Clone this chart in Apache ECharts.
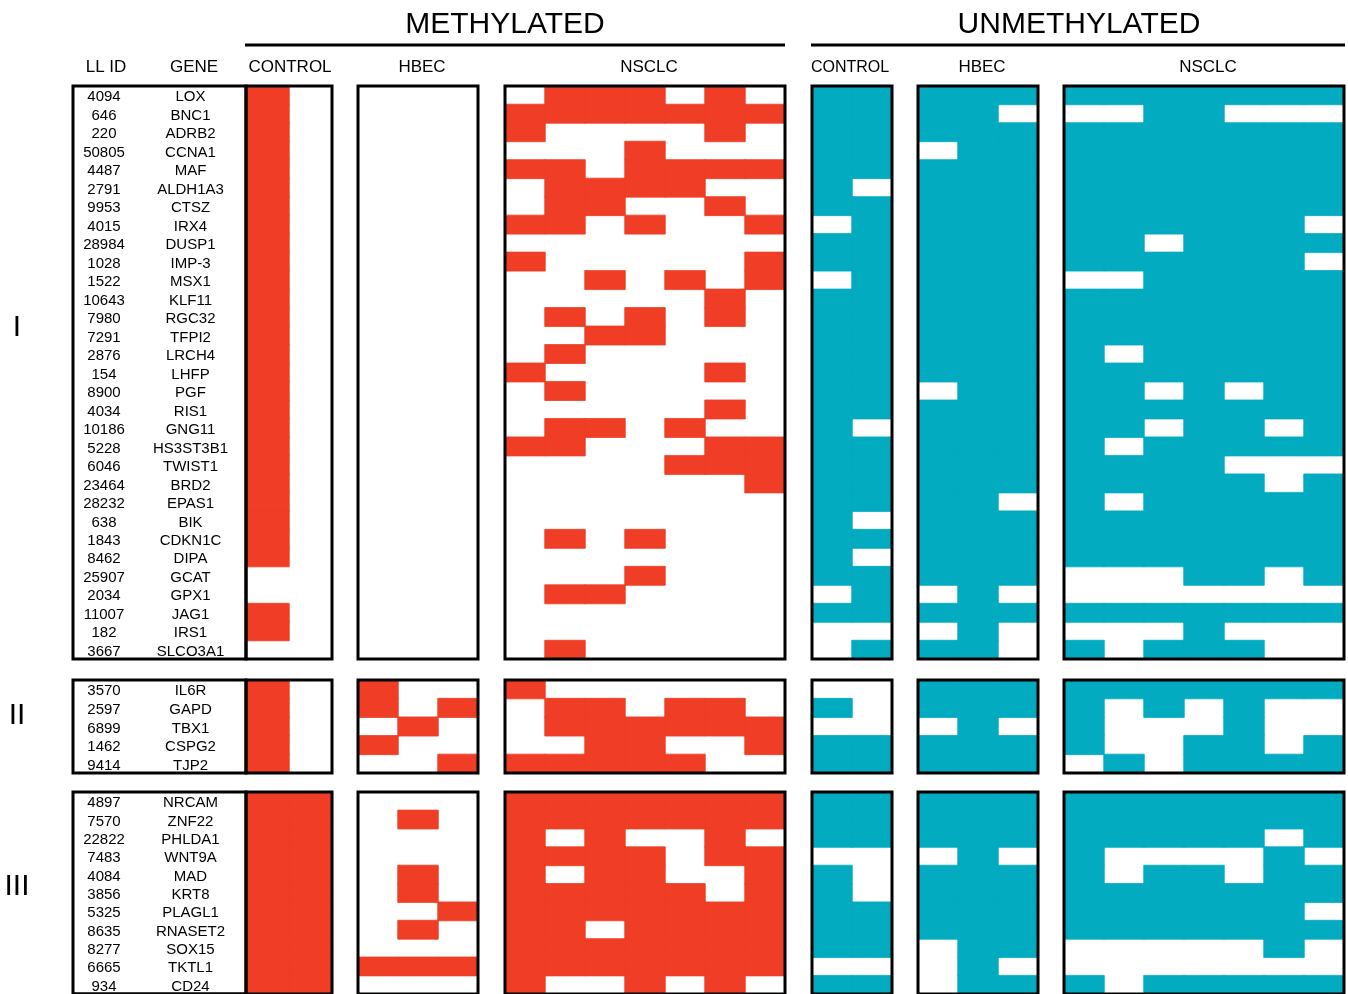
<!DOCTYPE html>
<html lang="en">
<head>
<meta charset="UTF-8">
<title>Methylation heatmap</title>
<style>
  html, body { margin: 0; padding: 0; background: #fff; }
  #main { width: 1348px; height: 994px; }
</style>
</head>
<body>
<div id="main"></div>
<script src="https://cdn.jsdelivr.net/npm/echarts@6/dist/echarts.min.js"></script>
<script>
var FONT = '"Liberation Sans", Arial, sans-serif'
var RED = '#EF3E25'
var TEAL = '#02ABBF'

// group I
var idsI = ['4094', '646', '220', '50805', '4487', '2791', '9953', '4015', '28984', '1028', '1522', '10643', '7980', '7291', '2876', '154',
  '8900', '4034', '10186', '5228', '6046', '23464', '28232', '638', '1843', '8462', '25907', '2034', '11007', '182', '3667']
var genesI = ['LOX', 'BNC1', 'ADRB2', 'CCNA1', 'MAF', 'ALDH1A3', 'CTSZ', 'IRX4', 'DUSP1', 'IMP-3', 'MSX1', 'KLF11', 'RGC32', 'TFPI2', 'LRCH4', 'LHFP',
  'PGF', 'RIS1', 'GNG11', 'HS3ST3B1', 'TWIST1', 'BRD2', 'EPAS1', 'BIK', 'CDKN1C', 'DIPA', 'GCAT', 'GPX1', 'JAG1', 'IRS1', 'SLCO3A1']
// 1 = methylated / unmethylated product present
var methCtrlI = ['10', '10', '10', '10', '10', '10', '10', '10', '10', '10', '10', '10', '10', '10', '10', '10',
  '10', '10', '10', '10', '10', '10', '10', '10', '10', '10', '00', '00', '10', '10', '00']
var methHbecI = ['000', '000', '000', '000', '000', '000', '000', '000', '000', '000', '000', '000', '000', '000', '000', '000',
  '000', '000', '000', '000', '000', '000', '000', '000', '000', '000', '000', '000', '000', '000', '000']
var methNsclcI = ['0111010', '1111111', '1000010', '0001000', '1101111', '0111100', '0110010', '1101001', '0000000', '1000001', '0010101',
  '0000010', '0101010', '0011000', '0100000', '1000010', '0100000', '0000010', '0110100', '1100011', '0000111', '0000001',
  '0000000', '0000000', '0101000', '0000000', '0001000', '0110000', '0000000', '0000000', '0100000']
var unCtrlI = ['11', '11', '11', '11', '11', '10', '11', '01', '11', '11', '01', '11', '11', '11', '11', '11',
  '11', '11', '10', '11', '11', '11', '11', '10', '11', '10', '11', '01', '11', '00', '01']
var unHbecI = ['111', '110', '111', '011', '111', '111', '111', '111', '111', '111', '111', '111', '111', '111', '111', '111',
  '011', '111', '111', '111', '111', '111', '110', '111', '111', '111', '111', '010', '111', '010', '110']
var unNsclcI = ['1111111', '0011000', '1111111', '1111111', '1111111', '1111111', '1111111', '1111110', '1101111', '1111110', '0011111',
  '1111111', '1111111', '1111111', '1011111', '1111111', '1101011', '1111111', '1101101', '1011111', '1111000', '1111101',
  '1011111', '1111111', '1111111', '1111111', '0001101', '0000000', '1111111', '0001000', '1011100']

// group II
var idsII = ['3570', '2597', '6899', '1462', '9414']
var genesII = ['IL6R', 'GAPD', 'TBX1', 'CSPG2', 'TJP2']
var methCtrlII = ['10', '10', '10', '10', '10']
var methHbecII = ['100', '101', '010', '100', '001']
var methNsclcII = ['1000000', '0110110', '0111111', '0011001', '1111100']
var unCtrlII = ['00', '10', '00', '11', '11']
var unHbecII = ['111', '111', '010', '111', '111']
var unNsclcII = ['1111111', '1010100', '1000100', '1001101', '0101111']

// group III
var idsIII = ['4897', '7570', '22822', '7483', '4084', '3856', '5325', '8635', '8277', '6665', '934']
var genesIII = ['NRCAM', 'ZNF22', 'PHLDA1', 'WNT9A', 'MAD', 'KRT8', 'PLAGL1', 'RNASET2', 'SOX15', 'TKTL1', 'CD24']
var methCtrlIII = ['11', '11', '11', '11', '11', '11', '11', '11', '11', '11', '11']
var methHbecIII = ['000', '010', '000', '000', '010', '010', '001', '010', '000', '111', '000']
var methNsclcIII = ['1111111', '1111111', '1010010', '1111011', '1011001', '1111101', '1111111', '1101111', '1111111', '1111111', '1001010']
var unCtrlIII = ['11', '11', '11', '00', '10', '10', '11', '11', '11', '00', '11']
var unHbecIII = ['111', '111', '111', '010', '111', '111', '111', '111', '011', '010', '011']
var unNsclcIII = ['1111111', '1111111', '1111101', '1000010', '1011011', '1111111', '1111110', '1111111', '0000010', '0000000', '1011111']

var groups = [
  { ids: idsI, genes: genesI, top: 86, height: 573, cells: [methCtrlI, methHbecI, methNsclcI, unCtrlI, unHbecI, unNsclcI] },
  { ids: idsII, genes: genesII, top: 680, height: 93, cells: [methCtrlII, methHbecII, methNsclcII, unCtrlII, unHbecII, unNsclcII] },
  { ids: idsIII, genes: genesIII, top: 792, height: 204, cells: [methCtrlIII, methHbecIII, methNsclcIII, unCtrlIII, unHbecIII, unNsclcIII] }
]

// kind 1 = methylated (red), 2 = unmethylated (teal); pad nudges the header text
var panels = [
  { left: 246, width: 86, name: 'CONTROL', kind: 1, size: 17, pad: [0, 0, 0, 2] },
  { left: 358, width: 120, name: 'HBEC', kind: 1, size: 17, pad: [0, 0, 0, 8] },
  { left: 505, width: 280, name: 'NSCLC', kind: 1, size: 17, pad: [0, 0, 0, 8] },
  { left: 812, width: 80, name: 'CONTROL', kind: 2, size: 16, pad: [0, 4, 0, 0] },
  { left: 918, width: 120, name: 'HBEC', kind: 2, size: 17, pad: [0, 0, 0, 8] },
  { left: 1064, width: 280, name: 'NSCLC', kind: 2, size: 17, pad: [0, 0, 0, 8] }
]

var grid = [], xAxis = [], yAxis = [], series = []

groups.forEach(function (g, gi) {
  // id / gene box
  var li = grid.length
  grid.push({ left: 73, top: g.top, width: 173, height: g.height, show: true, borderColor: '#000', borderWidth: 3, z: 10 })
  xAxis.push({ type: 'category', gridIndex: li, show: false, data: ['id', 'gene'] })
  yAxis.push({
    type: 'category', gridIndex: li, inverse: true, data: g.genes,
    axisLine: { show: false }, axisTick: { show: false }, splitLine: { show: false },
    axisLabel: {
      inside: true, margin: 0, interval: 0, color: '#000', fontSize: 15, fontFamily: FONT,
      padding: [4, 0, 0, 0],
      formatter: function (v, i) { return '{id|' + g.ids[i] + '}{g|' + v + '}' },
      rich: {
        id: { width: 62, align: 'center', fontSize: 15, fontFamily: FONT, color: '#000' },
        g: { width: 111, align: 'center', fontSize: 15, fontFamily: FONT, color: '#000' }
      }
    }
  })

  panels.forEach(function (p, pi) {
    var idx = grid.length
    var rows = g.cells[pi]
    var cols = []
    for (var c = 0; c < rows[0].length; c++) cols.push('c' + c)
    grid.push({ left: p.left, top: g.top, width: p.width, height: g.height, show: true, borderColor: '#000', borderWidth: 3, z: 10 })
    xAxis.push({
      type: 'category', gridIndex: idx, data: cols, position: 'top', show: gi === 0,
      axisLine: { show: false }, axisTick: { show: false }, axisLabel: { show: false }, splitLine: { show: false },
      name: p.name, nameLocation: 'middle', nameGap: 10,
      nameTextStyle: { color: '#000', fontSize: p.size, fontFamily: FONT, padding: p.pad }
    })
    yAxis.push({ type: 'category', gridIndex: idx, inverse: true, data: g.genes, show: false })
    var data = []
    rows.forEach(function (row, r) {
      for (var c = 0; c < row.length; c++) {
        if (row[c] === '1') data.push([c, r, p.kind])
      }
    })
    series.push({
      type: 'heatmap', xAxisIndex: idx, yAxisIndex: idx, data: data, z: 1,
      silent: true, emphasis: { disabled: true },
      // thin same-colour border hides anti-aliasing seams between rows
      itemStyle: { borderWidth: 0.8, borderColor: p.kind === 1 ? RED : TEAL }
    })
  })
})

var myChart = echarts.init(document.getElementById('main'))

var option = {
  animation: false,
  backgroundColor: '#fff',
  grid: grid,
  xAxis: xAxis,
  yAxis: yAxis,
  visualMap: {
    type: 'piecewise', show: false, dimension: 2,
    pieces: [{ value: 1, color: RED }, { value: 2, color: TEAL }]
  },
  graphic: [
    { type: 'text', x: 505, y: 25, style: { text: 'METHYLATED', fill: '#000', font: '30px ' + FONT, align: 'center', verticalAlign: 'middle' } },
    { type: 'text', x: 1079, y: 25, style: { text: 'UNMETHYLATED', fill: '#000', font: '30px ' + FONT, align: 'center', verticalAlign: 'middle' } },
    { type: 'line', shape: { x1: 245, y1: 45, x2: 785, y2: 45 }, style: { stroke: '#000', lineWidth: 3 } },
    { type: 'line', shape: { x1: 811, y1: 45, x2: 1345, y2: 45 }, style: { stroke: '#000', lineWidth: 3 } },
    { type: 'text', x: 106, y: 67, style: { text: 'LL ID', fill: '#000', font: '17px ' + FONT, align: 'center', verticalAlign: 'middle' } },
    { type: 'text', x: 194, y: 67, style: { text: 'GENE', fill: '#000', font: '17px ' + FONT, align: 'center', verticalAlign: 'middle' } },
    { type: 'text', x: 17, y: 328, style: { text: 'I', fill: '#000', font: '30px ' + FONT, align: 'center', verticalAlign: 'middle' } },
    { type: 'text', x: 17, y: 716, style: { text: 'II', fill: '#000', font: '30px ' + FONT, align: 'center', verticalAlign: 'middle' } },
    { type: 'text', x: 17, y: 887, style: { text: 'III', fill: '#000', font: '30px ' + FONT, align: 'center', verticalAlign: 'middle' } }
  ],
  series: series
}

myChart.setOption(option)

window.onresize = function () {
  myChart.resize()
}
</script>
</body>
</html>
